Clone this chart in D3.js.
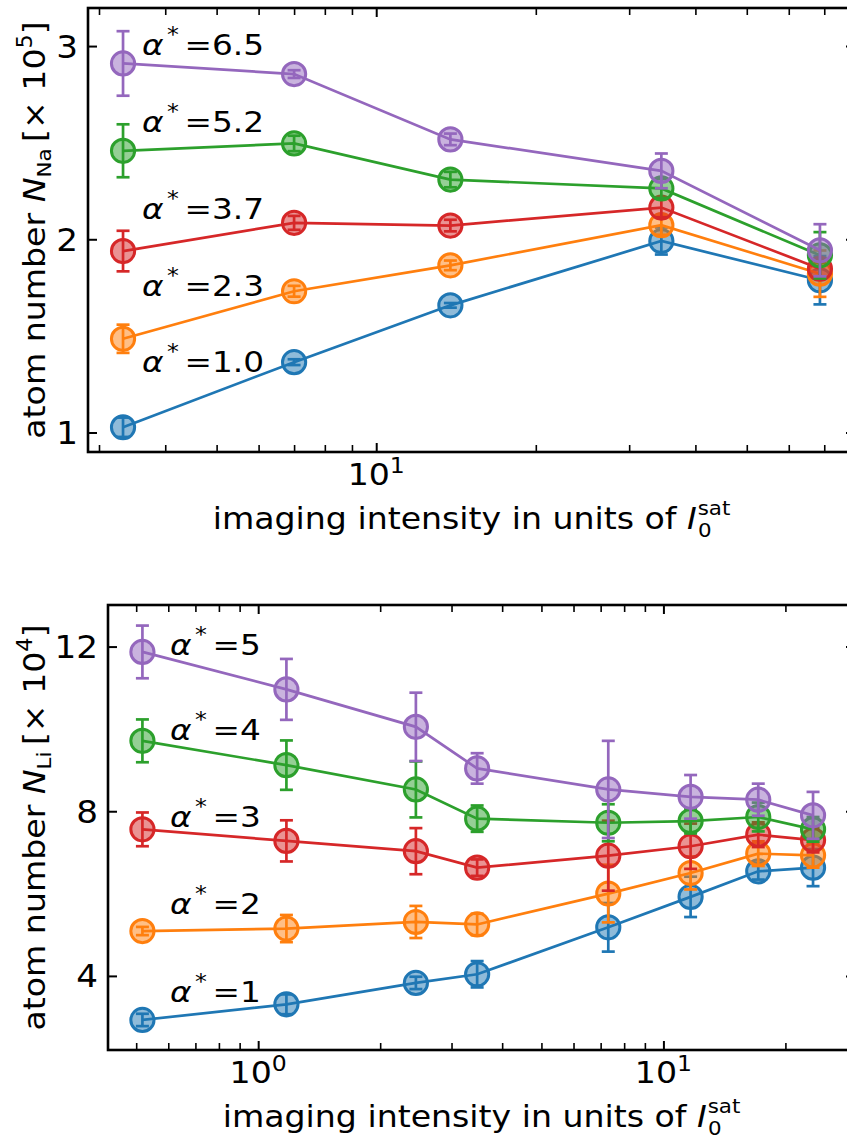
<!DOCTYPE html>
<html><head><meta charset="utf-8">
<script src="https://cdn.jsdelivr.net/npm/d3@7"></script>
<style>
body{margin:0;background:#fff}
text{font-family:"DejaVu Sans",sans-serif;fill:#000}
</style>
</head><body>
<svg id="c" width="847" height="1140" xmlns="http://www.w3.org/2000/svg"></svg>
<script>
// ---------- DATA ----------
// Na panel (top)
const naIntensity = [3.33, 7.0, 13.8, 34.5, 68.7];
const naAlphaLabels = ["1.0", "2.3", "3.7", "5.2", "6.5"];
const naN_a10 = [1.027, 1.364, 1.658, 1.991, 1.788];
const naErr_a10 = [0.05, 0.015, 0.012, 0.07, 0.125];
const naN_a23 = [1.485, 1.731, 1.865, 2.073, 1.822];
const naErr_a23 = [0.073, 0.028, 0.025, 0.05, 0.12];
const naN_a37 = [1.939, 2.085, 2.071, 2.164, 1.848];
const naErr_a37 = [0.105, 0.036, 0.03, 0.05, 0.05];
const naN_a52 = [2.458, 2.496, 2.309, 2.263, 1.917];
const naErr_a52 = [0.137, 0.04, 0.04, 0.05, 0.12];
const naN_a65 = [2.91, 2.855, 2.517, 2.354, 1.943];
const naErr_a65 = [0.167, 0.02, 0.03, 0.09, 0.135];
const naYTicks = [1, 2, 3];
const naXMajorTicks = [10];
const naXMinorTicks = [3, 4, 5, 6, 7, 8, 9, 20, 30, 40, 50, 60, 70];

// Li panel (bottom)
const liIntensity = [0.518, 1.174, 2.45, 3.47, 7.31, 11.67, 17.14, 23.4];
const liAlphaLabels = ["1", "2", "3", "4", "5"];
const liN_a1 = [2.93, 3.31, 3.83, 4.04, 5.18, 5.92, 6.54, 6.63];
const liErr_a1 = [0.15, 0.24, 0.15, 0.32, 0.59, 0.49, 0.2, 0.45];
const liN_a2 = [5.09, 5.15, 5.31, 5.25, 6.0, 6.5, 6.97, 6.93];
const liErr_a2 = [0.1, 0.33, 0.39, 0.26, 0.7, 0.4, 0.3, 0.3];
const liN_a3 = [7.56, 7.28, 7.03, 6.63, 6.92, 7.15, 7.43, 7.30];
const liErr_a3 = [0.41, 0.5, 0.56, 0.2, 0.85, 0.55, 0.3, 0.3];
const liN_a4 = [9.71, 9.12, 8.53, 7.82, 7.72, 7.76, 7.86, 7.56];
const liErr_a4 = [0.52, 0.6, 0.68, 0.32, 0.45, 0.3, 0.35, 0.3];
const liN_a5 = [11.87, 10.96, 10.05, 9.04, 8.53, 8.35, 8.28, 7.90];
const liErr_a5 = [0.64, 0.74, 0.83, 0.37, 1.18, 0.53, 0.39, 0.57];
const liYTicks = [4, 8, 12];
const liXMajorTicks = [1, 10];
const liXMinorTicks = [0.5, 0.6, 0.7, 0.8, 0.9, 2, 3, 4, 5, 6, 7, 8, 9, 20];

// ---------- STYLE / LAYOUT ----------
const seriesColors = ["#1f77b4", "#ff7f0e", "#d62728", "#2ca02c", "#9467bd"];
const SX = 1.07;   // horizontal glyph stretch to match reference text widths
const svg = d3.select("#c");

const panels = [
  {
    box: {left: 88, right: 855, top: 8, bottom: 452},
    xDomain: [2.86, 80], yDomain: [0.899, 3.197],
    xs: naIntensity,
    series: [[naN_a10, naErr_a10], [naN_a23, naErr_a23], [naN_a37, naErr_a37], [naN_a52, naErr_a52], [naN_a65, naErr_a65]],
    alphas: naAlphaLabels,
    labelX: 142, labelY: [372, 296, 219, 132, 55],
    yTicks: naYTicks, xMajor: naXMajorTicks, xMinor: naXMinorTicks,
    sub: "Na", pow: "5", ylabX: 45
  },
  {
    box: {left: 108, right: 855, top: 605, bottom: 1050},
    xDomain: [0.426, 29.7], yDomain: [2.2, 13.01],
    xs: liIntensity,
    series: [[liN_a1, liErr_a1], [liN_a2, liErr_a2], [liN_a3, liErr_a3], [liN_a4, liErr_a4], [liN_a5, liErr_a5]],
    alphas: liAlphaLabels,
    labelX: 170, labelY: [1002, 914, 827, 740, 655],
    yTicks: liYTicks, xMajor: liXMajorTicks, xMinor: liXMinorTicks,
    sub: "Li", pow: "4", ylabX: 45
  }
];

function placeText(g, x, y, sx) {
  return g.append("text").attr("transform", `translate(${x},${y}) scale(${sx},1)`);
}

function drawPanel(p) {
  const b = p.box;
  const x = d3.scaleLog().domain(p.xDomain).range([b.left, b.right]);
  const y = d3.scaleLinear().domain(p.yDomain).range([b.bottom, b.top]);
  const g = svg.append("g");

  // axes ticks (inward on all sides)
  const tickStyle = (sel, w) => {
    sel.select(".domain").remove();
    sel.selectAll("line").attr("stroke", "#000").attr("stroke-width", w);
    sel.selectAll("text").remove();
  };
  g.append("g").attr("transform", `translate(0,${b.bottom})`)
    .call(d3.axisBottom(x).tickValues(p.xMajor).tickSizeInner(-9).tickSizeOuter(0)).call(tickStyle, 2);
  g.append("g").attr("transform", `translate(0,${b.bottom})`)
    .call(d3.axisBottom(x).tickValues(p.xMinor).tickSizeInner(-7).tickSizeOuter(0)).call(tickStyle, 1.6);
  g.append("g").attr("transform", `translate(0,${b.top})`)
    .call(d3.axisTop(x).tickValues(p.xMajor).tickSizeInner(-9).tickSizeOuter(0)).call(tickStyle, 2);
  g.append("g").attr("transform", `translate(0,${b.top})`)
    .call(d3.axisTop(x).tickValues(p.xMinor).tickSizeInner(-7).tickSizeOuter(0)).call(tickStyle, 1.6);
  g.append("g").attr("transform", `translate(${b.left},0)`)
    .call(d3.axisLeft(y).tickValues(p.yTicks).tickSizeInner(-9).tickSizeOuter(0)).call(tickStyle, 2);
  g.append("g").attr("transform", `translate(${b.right},0)`)
    .call(d3.axisRight(y).tickValues(p.yTicks).tickSizeInner(-9).tickSizeOuter(0)).call(tickStyle, 2);

  // tick labels
  p.yTicks.forEach(v => {
    placeText(g, b.left - 10, y(v), SX).attr("dy", "0.36em")
      .attr("text-anchor", "end").attr("font-size", 32).text(v);
  });
  p.xMajor.forEach(v => {
    const t = placeText(g, x(v), b.bottom + 33, SX).attr("text-anchor", "middle").attr("font-size", 31);
    t.append("tspan").text("10");
    t.append("tspan").attr("font-size", 22).attr("dy", -12).text(String(Math.round(Math.log10(v))));
  });

  // series
  p.series.forEach(([vals, errs], i) => {
    const col = seriesColors[i];
    const pts = p.xs.map((xv, j) => ({x: xv, y: vals[j], e: errs[j]}));
    g.append("path").datum(pts)
      .attr("d", d3.line().x(d => x(d.x)).y(d => y(d.y)))
      .attr("fill", "none").attr("stroke", col).attr("stroke-width", 2.7);
    const eb = g.append("g").attr("stroke", col).attr("stroke-width", 2.7);
    eb.selectAll(null).data(pts).join("line")
      .attr("x1", d => x(d.x)).attr("x2", d => x(d.x))
      .attr("y1", d => y(d.y - d.e)).attr("y2", d => y(d.y + d.e));
    eb.selectAll(null).data(pts.flatMap(d => [{x: d.x, y: d.y - d.e}, {x: d.x, y: d.y + d.e}])).join("line")
      .attr("x1", d => x(d.x) - 6.5).attr("x2", d => x(d.x) + 6.5)
      .attr("y1", d => y(d.y)).attr("y2", d => y(d.y));
    g.selectAll(null).data(pts).join("circle")
      .attr("cx", d => x(d.x)).attr("cy", d => y(d.y)).attr("r", 11.6)
      .attr("fill", col).attr("fill-opacity", 0.5)
      .attr("stroke", col).attr("stroke-width", 3);
  });

  // alpha annotations
  p.alphas.forEach((a, i) => {
    const t = placeText(g, p.labelX, p.labelY[i], 1.13).attr("font-size", 29);
    t.append("tspan").attr("font-style", "italic").text("α");
    t.append("tspan").attr("font-size", 21).attr("dy", -13).attr("dx", 3).text("*");
    t.append("tspan").attr("dy", 13).attr("dx", 5).text("=" + a);
  });

  // spines
  g.append("rect").attr("x", b.left).attr("y", b.top)
    .attr("width", b.right - b.left).attr("height", b.bottom - b.top)
    .attr("fill", "none").attr("stroke", "#000").attr("stroke-width", 2.6);

  // y label
  const cy = (b.top + b.bottom) / 2;
  const yl = g.append("text").attr("transform", `translate(${p.ylabX},${cy}) rotate(-90) scale(${SX},1)`)
    .attr("text-anchor", "middle").attr("font-size", 31);
  yl.append("tspan").text("atom number ");
  yl.append("tspan").attr("font-style", "italic").text("N");
  yl.append("tspan").attr("font-size", 20).attr("dy", 6).text(p.sub);
  yl.append("tspan").attr("dy", -6).attr("dx", 6).text("[× 10");
  yl.append("tspan").attr("font-size", 21).attr("dy", -13).text(p.pow);
  yl.append("tspan").attr("dy", 13).text("]");

  // x label
  const cx = (b.left + b.right) / 2;
  const xl = placeText(g, cx, b.bottom + 77, SX).attr("text-anchor", "middle").attr("font-size", 31);
  xl.append("tspan").text("imaging intensity in units of ");
  xl.append("tspan").attr("font-style", "italic").text("I");
  xl.append("tspan").attr("font-size", 20).attr("dy", 8).attr("dx", 1).text("0");
  xl.append("tspan").attr("font-size", 20).attr("dy", -22).attr("dx", -13).text("sat");
}

panels.forEach(drawPanel);
</script>
</body></html>
